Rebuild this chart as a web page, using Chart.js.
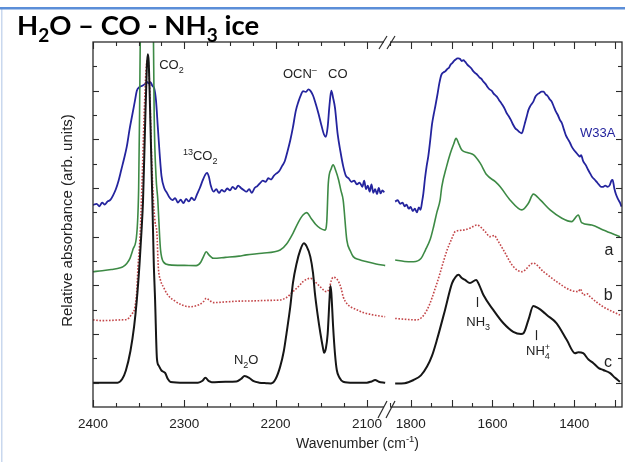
<!DOCTYPE html>
<html>
<head>
<meta charset="utf-8">
<script src="https://cdn.jsdelivr.net/npm/chart.js@4.4.0/dist/chart.umd.min.js"></script>
<style>
  html, body { margin: 0; padding: 0; background: #fff; }
  canvas { display: block; }
</style>
</head>
<body>
<canvas id="spectra" width="625" height="462"></canvas>
<script>
// ---- Spectra: [wavenumber (cm-1), relative absorbance (offset, arb. units)] ----
// Left panel covers 2400-2080 cm-1, right panel 1840-1284 cm-1.

// W33A (observed)
const w33aLeft = [
  [2400,8.30],[2396,8.35],[2393,8.25],[2390,8.40],[2387,8.32],[2384,8.45],[2381,8.51],[2378,8.70],
  [2375,8.95],[2372,9.30],[2369,9.75],[2366,10.20],[2363,10.70],[2360,11.40],[2357,12.00],[2354,12.60],
  [2352,13.00],[2349,13.15],[2346,13.20],[2343,13.28],[2341,13.36],[2339,13.30],[2337,13.35],[2335,13.20],
  [2333,13.10],[2331,12.60],[2329,11.50],[2327,10.40],[2325,9.50],[2322,9.00],[2319,8.80],[2316,8.60],
  [2313,8.50],[2310,8.58],[2307,8.40],[2304,8.52],[2301,8.38],[2298,8.55],[2295,8.45],[2292,8.60],
  [2289,8.50],[2286,8.75],[2283,9.00],[2280,9.30],[2277,9.55],[2275,9.62],[2273,9.45],[2271,9.10],
  [2268,8.85],[2265,8.95],[2262,8.80],[2259,8.92],[2256,8.85],[2253,8.98],[2250,8.90],[2247,9.05],
  [2244,8.95],[2241,9.10],[2238,9.00],[2235,8.92],[2232,8.85],[2229,8.95],[2226,8.80],[2223,9.00],
  [2220,9.08],[2217,9.20],[2214,9.30],[2211,9.25],[2208,9.40],[2205,9.35],[2202,9.50],[2199,9.60],
  [2196,9.70],[2193,9.90],[2190,10.10],[2187,10.50],[2184,10.95],[2181,11.50],[2178,12.15],[2175,12.55],
  [2172,12.85],[2170,12.98],[2167,12.95],[2164,13.05],[2162,13.00],[2159,12.80],[2156,12.45],[2153,12.05],
  [2150,11.60],[2147,11.20],[2145,11.10],[2143,11.50],[2141,12.40],[2139,13.00],[2137,12.70],[2135,12.30],
  [2132,11.20],[2129,10.50],[2126,9.90],[2123,9.50],[2120,9.40],[2117,9.25],[2114,9.30],[2111,9.15],
  [2108,9.22],[2105,9.05],[2103,9.30],[2101,8.95],[2099,9.10],[2097,8.85],[2095,9.15],[2093,8.80],
  [2091,8.95],[2089,8.75],[2087,9.00],[2085,8.78],[2083,8.90],[2081,8.82]
];
const w33aRight = [
  [1838,8.44],[1832,8.50],[1826,8.35],[1820,8.40],[1815,8.25],[1810,8.32],[1805,8.15],[1800,8.22],
  [1795,8.05],[1790,8.15],[1785,8.00],[1780,8.20],[1776,8.10],[1772,8.45],[1769,8.78],[1765,9.40],
  [1761,9.90],[1757,10.30],[1752,11.00],[1748,11.60],[1744,12.00],[1740,12.34],[1735,12.80],[1730,13.30],
  [1725,13.65],[1720,13.75],[1715,13.80],[1711,13.88],[1706,13.95],[1702,14.08],[1699,14.12],[1694,14.22],
  [1690,14.28],[1686,14.33],[1683,14.33],[1679,14.30],[1675,14.22],[1671,14.25],[1667,14.19],[1662,14.08],
  [1657,14.00],[1652,13.92],[1647,13.80],[1642,13.72],[1637,13.65],[1632,13.55],[1627,13.48],[1622,13.37],
  [1617,13.28],[1612,13.15],[1607,13.05],[1602,13.00],[1597,12.88],[1592,12.80],[1589,12.75],[1584,12.62],
  [1579,12.50],[1575,12.40],[1570,12.25],[1565,12.07],[1560,11.95],[1555,11.80],[1549,11.59],[1544,11.45],
  [1539,11.38],[1534,11.30],[1528,11.25],[1524,11.45],[1520,11.70],[1516,11.95],[1512,12.20],[1508,12.35],
  [1504,12.45],[1500,12.55],[1495,12.75],[1490,12.85],[1485,12.90],[1480,12.96],[1475,12.96],[1470,12.85],
  [1465,12.78],[1460,12.65],[1455,12.55],[1450,12.35],[1445,12.15],[1440,12.00],[1435,11.80],[1430,11.66],
  [1425,11.40],[1420,11.15],[1415,11.00],[1410,10.85],[1406,10.70],[1400,10.55],[1395,10.45],[1390,10.35],
  [1386,10.29],[1383,10.35],[1378,10.10],[1372,9.95],[1366,9.75],[1361,9.60],[1356,9.45],[1350,9.35],
  [1345,9.25],[1340,9.15],[1334,9.05],[1329,9.05],[1324,9.10],[1318,9.05],[1313,9.12],[1309,9.30],
  [1306,9.33],[1302,9.00],[1298,8.75],[1293,8.55],[1288,8.40],[1284,8.23]
];

// Laboratory ice a
const iceALeft = [
  [2400,5.56],[2390,5.60],[2380,5.65],[2370,5.72],[2367,5.77],[2363,5.90],[2359.5,6.11],[2356,6.50],
  [2352,7.15],[2350,9.0],[2349,12.0],[2348,16.0],[2345,20.0],[2341,22.0],[2337,20.0],[2334,16.0],
  [2333,12.0],[2331,9.5],[2329,8.5],[2327,7.0],[2326,6.45],[2323,5.97],[2316,5.84],[2300,5.82],
  [2287,5.81],[2282,5.95],[2279,6.18],[2276,6.38],[2273,6.25],[2268,6.11],[2255,6.15],[2240,6.20],
  [2232,6.25],[2215,6.32],[2195,6.45],[2188,6.70],[2181,7.14],[2175,7.60],[2170,7.89],[2166,7.99],
  [2161,7.75],[2156,7.50],[2151,7.34],[2146,7.27],[2144,7.60],[2142.3,9.19],[2139,9.80],[2137,9.95],
  [2134,9.70],[2131,9.33],[2128.5,8.90],[2126,8.50],[2122,6.86],[2118,6.40],[2115,6.18],[2108,6.05],
  [2100,5.97],[2090,5.88],[2080,5.81]
];
const iceARight = [
  [1838,6.04],[1815,5.98],[1793,5.97],[1775,6.10],[1764,6.45],[1752,6.90],[1744,7.41],[1736,8.00],
  [1728,8.51],[1724,9.05],[1712,9.90],[1703,10.43],[1695,10.80],[1689,11.04],[1682,10.80],[1675,10.56],
  [1660,10.45],[1646,10.36],[1630,10.02],[1614,9.54],[1593,9.26],[1581,9.05],[1557,8.51],[1528,8.10],
  [1512,8.37],[1500,8.75],[1483,8.51],[1459,8.10],[1430,7.76],[1406,7.62],[1390,7.89],[1382,7.58],
  [1357,7.48],[1329,7.27],[1288,7.00]
];

// Laboratory ice b
const iceBLeft = [
  [2400,3.58],[2390,3.55],[2380,3.56],[2370,3.58],[2363,3.60],[2358,3.80],[2354,4.12],[2352,4.80],
  [2350.7,5.77],[2348.5,7.0],[2346.5,9.0],[2344,12.0],[2342,13.8],[2340,14.3],[2338,13.2],[2336,10.5],
  [2334,8.6],[2332,7.6],[2330,7.14],[2328.5,5.77],[2326,5.20],[2323,4.94],[2318,4.60],[2312,4.40],
  [2303,4.20],[2294,4.12],[2288,4.15],[2284,4.20],[2279,4.33],[2276,4.47],[2273,4.40],[2268,4.29],
  [2255,4.32],[2240,4.35],[2225,4.36],[2210,4.38],[2195,4.40],[2188,4.50],[2181,4.74],[2175,4.95],
  [2170,5.15],[2166,5.25],[2162,5.29],[2158,5.20],[2155,5.08],[2150,4.90],[2146,4.76],[2144,4.74],
  [2141,4.90],[2139,5.20],[2137,5.33],[2134,5.30],[2131,5.15],[2128,4.85],[2126,4.53],[2122,4.25],
  [2118,4.12],[2110,3.98],[2104,3.88],[2095,3.80],[2088,3.75],[2080,3.71]
];
const iceBRight = [
  [1838,3.64],[1810,3.60],[1785,3.58],[1760,3.99],[1736,5.08],[1711,6.45],[1700,6.90],[1691,7.21],
  [1671,7.27],[1655,7.35],[1638,7.48],[1618,7.21],[1606,7.00],[1595,7.05],[1589,6.90],[1573,6.45],
  [1549,5.77],[1528,5.56],[1500,5.91],[1475,5.56],[1443,5.15],[1410,4.81],[1390,4.74],[1385,4.85],
  [1377,4.60],[1368,4.65],[1361,4.53],[1329,4.12],[1288,3.78]
];

// Laboratory ice c
const iceCLeft = [
  [2400,1.00],[2390,1.00],[2380,1.00],[2373,1.00],[2368,1.15],[2364,1.50],[2359,2.30],[2355,3.30],
  [2352,4.40],[2349,5.90],[2347,7.15],[2345.2,8.5],[2343,11.5],[2341,14.0],[2340,14.5],[2339,14.2],
  [2337,11.5],[2335,8.5],[2333.5,6.0],[2332,4.40],[2330,2.00],[2328,1.70],[2325,1.50],[2321,1.40],
  [2318,1.15],[2315,1.03],[2300,1.00],[2285,1.00],[2280,1.08],[2277,1.20],[2273,1.06],[2270,1.02],
  [2255,1.04],[2243,1.05],[2238,1.15],[2234,1.27],[2229,1.20],[2224,1.06],[2218,1.00],[2210,0.98],
  [2205,0.97],[2200,1.15],[2195,1.66],[2191,2.30],[2188,3.04],[2184,4.10],[2181,5.10],[2177,5.90],
  [2173,6.45],[2169,6.73],[2166,6.60],[2162,6.18],[2159,5.50],[2157,4.69],[2154,3.80],[2151,3.04],
  [2148,2.40],[2147,2.23],[2145,2.40],[2143,3.00],[2141,4.40],[2140,4.97],[2139,4.70],[2137,3.30],
  [2135,2.20],[2133,1.52],[2130,1.20],[2126,1.04],[2115,1.00],[2100,1.00],[2095,1.05],[2091,1.11],
  [2087,1.04],[2080,1.00]
];
const iceCRight = [
  [1838,0.97],[1815,0.98],[1793,1.11],[1775,1.30],[1760,1.66],[1748,2.10],[1736,2.75],[1716,3.99],
  [1699,5.08],[1690,5.35],[1683,5.43],[1675,5.30],[1667,5.22],[1655,5.10],[1640,5.22],[1632,5.00],
  [1622,4.60],[1598,3.99],[1573,3.44],[1549,3.09],[1530,3.00],[1524,3.03],[1512,3.58],[1500,4.15],
  [1488,4.06],[1475,3.90],[1467,3.78],[1443,3.44],[1418,2.75],[1398,2.21],[1390,2.25],[1378,2.21],
  [1365,1.95],[1353,1.80],[1340,1.60],[1329,1.52],[1312,1.39],[1300,1.20],[1288,1.04]
];

// Axis ranges and labelled ticks
const leftRange = [2078, 2400];
const rightRange = [1283, 1858];
const leftTickLabels = [2400, 2300, 2200, 2100];
const rightTickLabels = [1800, 1600, 1400];
const absRange = [0, 15];

// ---- Styling ----
const SANS = "'Liberation Sans', Arial, Helvetica, sans-serif";
const COLORS = {
  w33a: '#24249e',
  a: '#3d8a45',
  b: '#c4474a',
  c: '#161616',
  axis: '#2b2b2b',
  text: '#222222'
};

const toXY = arr => arr.map(([x, y]) => ({ x, y }));

function lineSet(label, data, axis, color, width, dash) {
  return {
    label,
    data: toXY(data),
    xAxisID: axis,
    yAxisID: 'y',
    borderColor: color,
    borderWidth: width,
    borderDash: dash || [],
    pointRadius: 0,
    fill: false,
    cubicInterpolationMode: 'monotone',
    clip: 0
  };
}

// Text with sub/superscripts: parts = [[text, mode]], mode '', 'sub', 'sup', 'over'
function drawRich(ctx, parts, x, y, o) {
  const size = o.size, small = o.small || size * 0.72, weight = o.weight || 'normal';
  const fam = o.family || SANS;
  const fontFor = m => `${weight} ${m ? small : size}px ${fam}`;
  const widths = parts.map(([t, m]) => { ctx.font = fontFor(m); return ctx.measureText(t).width; });
  let total = 0, prevW = 0;
  parts.forEach(([t, m], i) => {
    if (m === 'over') { total += Math.max(0, widths[i] - prevW); } else { total += widths[i]; prevW = widths[i]; }
  });
  let cx = o.align === 'center' ? x - total / 2 : o.align === 'right' ? x - total : x;
  let prevStart = cx; prevW = 0;
  ctx.textAlign = 'left';
  ctx.textBaseline = 'alphabetic';
  ctx.fillStyle = o.color || COLORS.text;
  parts.forEach(([t, m], i) => {
    ctx.font = fontFor(m);
    const dy = m === 'sub' ? (o.subDy || size * 0.3) : (m === 'sup' || m === 'over') ? -(o.supDy || size * 0.42) : 0;
    if (m === 'over') {
      ctx.fillText(t, prevStart, y + dy);
      cx = prevStart + Math.max(prevW, widths[i]);
    } else {
      ctx.fillText(t, cx, y + dy);
      prevStart = cx; prevW = widths[i];
      cx += widths[i];
    }
  });
}

// Band and trace labels placed in data coordinates
const bandLabels = [
  { parts: [['CO', ''], ['2', 'sub']], axis: 'xL', x: 2327.5, y: 14.1, align: 'left' },
  { parts: [['13', 'sup'], ['CO', ''], ['2', 'sub']], axis: 'xL', x: 2301.5, y: 10.36, align: 'left' },
  { parts: [['OCN', ''], ['\u2013', 'sup']], axis: 'xL', x: 2192, y: 13.73, align: 'left' },
  { parts: [['CO', '']], axis: 'xL', x: 2142.6, y: 13.73, align: 'left' },
  { parts: [['N', ''], ['2', 'sub'], ['O', '']], axis: 'xL', x: 2245.6, y: 1.97, align: 'left' },
  { parts: [['W33A', '']], axis: 'xR', x: 1385.6, y: 11.3, align: 'left', color: COLORS.w33a },
  { parts: [['a', '']], axis: 'xR', x: 1314.7, y: 6.49, align: 'center', size: 16 },
  { parts: [['b', '']], axis: 'xR', x: 1317, y: 4.64, align: 'center', size: 16 },
  { parts: [['c', '']], axis: 'xR', x: 1317, y: 1.9, align: 'center', size: 16 },
  { parts: [['NH', ''], ['3', 'sub']], axis: 'xR', x: 1635, y: 3.53, align: 'center', marker: [1638, 4.52, 4.11] },
  { parts: [['NH', ''], ['4', 'sub'], ['+', 'over']], axis: 'xR', x: 1488.3, y: 2.34, align: 'center', marker: [1494, 3.16, 2.75] }
];

const decor = {
  id: 'decor',
  beforeDraw(chart) {
    const ctx = chart.ctx;
    ctx.save();
    ctx.fillStyle = '#ffffff';
    ctx.fillRect(0, 0, chart.width, chart.height);
    ctx.fillStyle = '#c9d8ee';
    ctx.fillRect(1, 9, 1.5, chart.height - 9);
    ctx.fillStyle = '#5b8ed8';
    ctx.fillRect(0, 7, chart.width, 2.5);
    ctx.restore();
  },
  afterDatasetsDraw(chart) {
    const ctx = chart.ctx;
    const ca = chart.chartArea;
    const xL = chart.scales.xL, xR = chart.scales.xR, y = chart.scales.y;
    ctx.save();
    ctx.strokeStyle = COLORS.axis;
    ctx.lineWidth = 1.3;
    ctx.strokeRect(ca.left, ca.top, ca.right - ca.left, ca.bottom - ca.top);

    const seg = (x1, y1, x2, y2) => { ctx.beginPath(); ctx.moveTo(x1, y1); ctx.lineTo(x2, y2); ctx.stroke(); };
    ctx.lineWidth = 1.1;
    // wavenumber ticks, pointing inward on top and bottom
    [[xL, 25], [xR, 50]].forEach(([s, step]) => {
      s.ticks.forEach(t => {
        const v = t.value;
        if (Math.abs(v / step - Math.round(v / step)) > 1e-6) return;
        const px = Math.round(s.getPixelForValue(v)) + 0.5;
        const len = Math.abs(v % 100) < 1e-6 ? 7 : 4;
        seg(px, ca.bottom, px, ca.bottom - len);
        seg(px, ca.top, px, ca.top + len);
      });
    });
    // absorbance ticks on both sides
    for (let v = absRange[0] + 1; v < absRange[1]; v++) {
      const py = Math.round(y.getPixelForValue(v)) + 0.5;
      const len = v % 2 === 1 ? 6 : 4;
      seg(ca.left, py, ca.left + len, py);
      seg(ca.right, py, ca.right - len, py);
    }

    // axis break marks
    const bx = xL.right;
    ctx.fillStyle = '#ffffff';
    ctx.fillRect(bx - 3, ca.top - 2, 6, 4);
    ctx.fillRect(bx - 3, ca.bottom - 2, 6, 4);
    ctx.strokeStyle = COLORS.axis;
    ctx.lineWidth = 1.2;
    [-4, 4].forEach(d => {
      seg(bx + d - 4, ca.top + 7, bx + d + 4, ca.top - 6);
      seg(bx + d - 5, ca.bottom + 11, bx + d + 4, ca.bottom - 6);
    });

    // band and trace labels
    bandLabels.forEach(l => {
      const s = chart.scales[l.axis];
      const size = l.size || 13;
      const px = s.getPixelForValue(l.x);
      const py = y.getPixelForValue(l.y) + size * 0.36;
      drawRich(ctx, l.parts, px, py, { size, small: 9, subDy: 4, supDy: 5, align: l.align, color: l.color });
      if (l.marker) {
        const mx = Math.round(s.getPixelForValue(l.marker[0])) + 0.5;
        ctx.strokeStyle = COLORS.text;
        ctx.lineWidth = 1.2;
        seg(mx, y.getPixelForValue(l.marker[1]), mx, y.getPixelForValue(l.marker[2]));
      }
    });

    // axis titles
    ctx.save();
    ctx.translate(68, (ca.top + ca.bottom) / 2 - 4);
    ctx.rotate(-Math.PI / 2);
    ctx.fillStyle = COLORS.text;
    ctx.font = `15px ${SANS}`;
    ctx.textAlign = 'center';
    ctx.textBaseline = 'middle';
    ctx.fillText('Relative absorbance (arb. units)', 0, 0);
    ctx.restore();
    drawRich(ctx, [['Wavenumber (cm', ''], ['-1', 'sup'], [')', '']], (ca.left + ca.right) / 2, 448,
      { size: 14, small: 9.5, supDy: 6, align: 'center' });

    // heading
    drawRich(ctx, [['H', ''], ['2', 'sub'], ['O \u2013 CO - NH', ''], ['3', 'sub'], [' ice', '']], 17, 35,
      { size: 27.5, small: 19, subDy: 7, weight: 'bold', family: "Lato, 'Open Sans', sans-serif", align: 'left', color: '#000' });
    ctx.restore();
  }
};

const tickFont = { family: SANS, size: 13.5 };
// fixed axis band height, no extra side padding so the plot spans its full width
const fitAxis = s => { s.height = 55; s.paddingLeft = 0; s.paddingRight = 0; };

new Chart(document.getElementById('spectra'), {
  type: 'line',
  data: {
    datasets: [
      lineSet('c', iceCLeft, 'xL', COLORS.c, 2),
      lineSet('c', iceCRight, 'xR', COLORS.c, 2),
      lineSet('b', iceBLeft, 'xL', COLORS.b, 1.6, [1.6, 1.6]),
      lineSet('b', iceBRight, 'xR', COLORS.b, 1.6, [1.6, 1.6]),
      lineSet('a', iceALeft, 'xL', COLORS.a, 1.6),
      lineSet('a', iceARight, 'xR', COLORS.a, 1.6),
      lineSet('W33A', w33aLeft, 'xL', COLORS.w33a, 1.8),
      lineSet('W33A', w33aRight, 'xR', COLORS.w33a, 1.8)
    ]
  },
  plugins: [decor],
  options: {
    responsive: false,
    animation: false,
    devicePixelRatio: 1,
    layout: { padding: { left: 93, right: 3, top: 42, bottom: 0 } },
    plugins: { legend: { display: false }, tooltip: { enabled: false }, title: { display: false } },
    events: [],
    scales: {
      xL: {
        type: 'linear', position: 'bottom', axis: 'x', reverse: true,
        min: leftRange[0], max: leftRange[1],
        stack: 'wavenumber', stackWeight: 294,
        grid: { display: false, drawTicks: false }, border: { display: false },
        ticks: {
          stepSize: 25, includeBounds: false, autoSkip: false, maxRotation: 0, minRotation: 0,
          padding: 9, font: tickFont, color: COLORS.text,
          callback: v => leftTickLabels.includes(v) ? String(v) : ''
        },
        afterFit: fitAxis
      },
      xR: {
        type: 'linear', position: 'bottom', axis: 'x', reverse: true,
        min: rightRange[0], max: rightRange[1],
        stack: 'wavenumber', stackWeight: 235,
        grid: { display: false, drawTicks: false }, border: { display: false },
        ticks: {
          stepSize: 50, includeBounds: false, autoSkip: false, maxRotation: 0, minRotation: 0,
          padding: 9, font: tickFont, color: COLORS.text,
          callback: v => rightTickLabels.includes(v) ? String(v) : ''
        },
        afterFit: fitAxis
      },
      y: { type: 'linear', display: false, min: absRange[0], max: absRange[1] }
    }
  }
});
</script>
</body>
</html>
